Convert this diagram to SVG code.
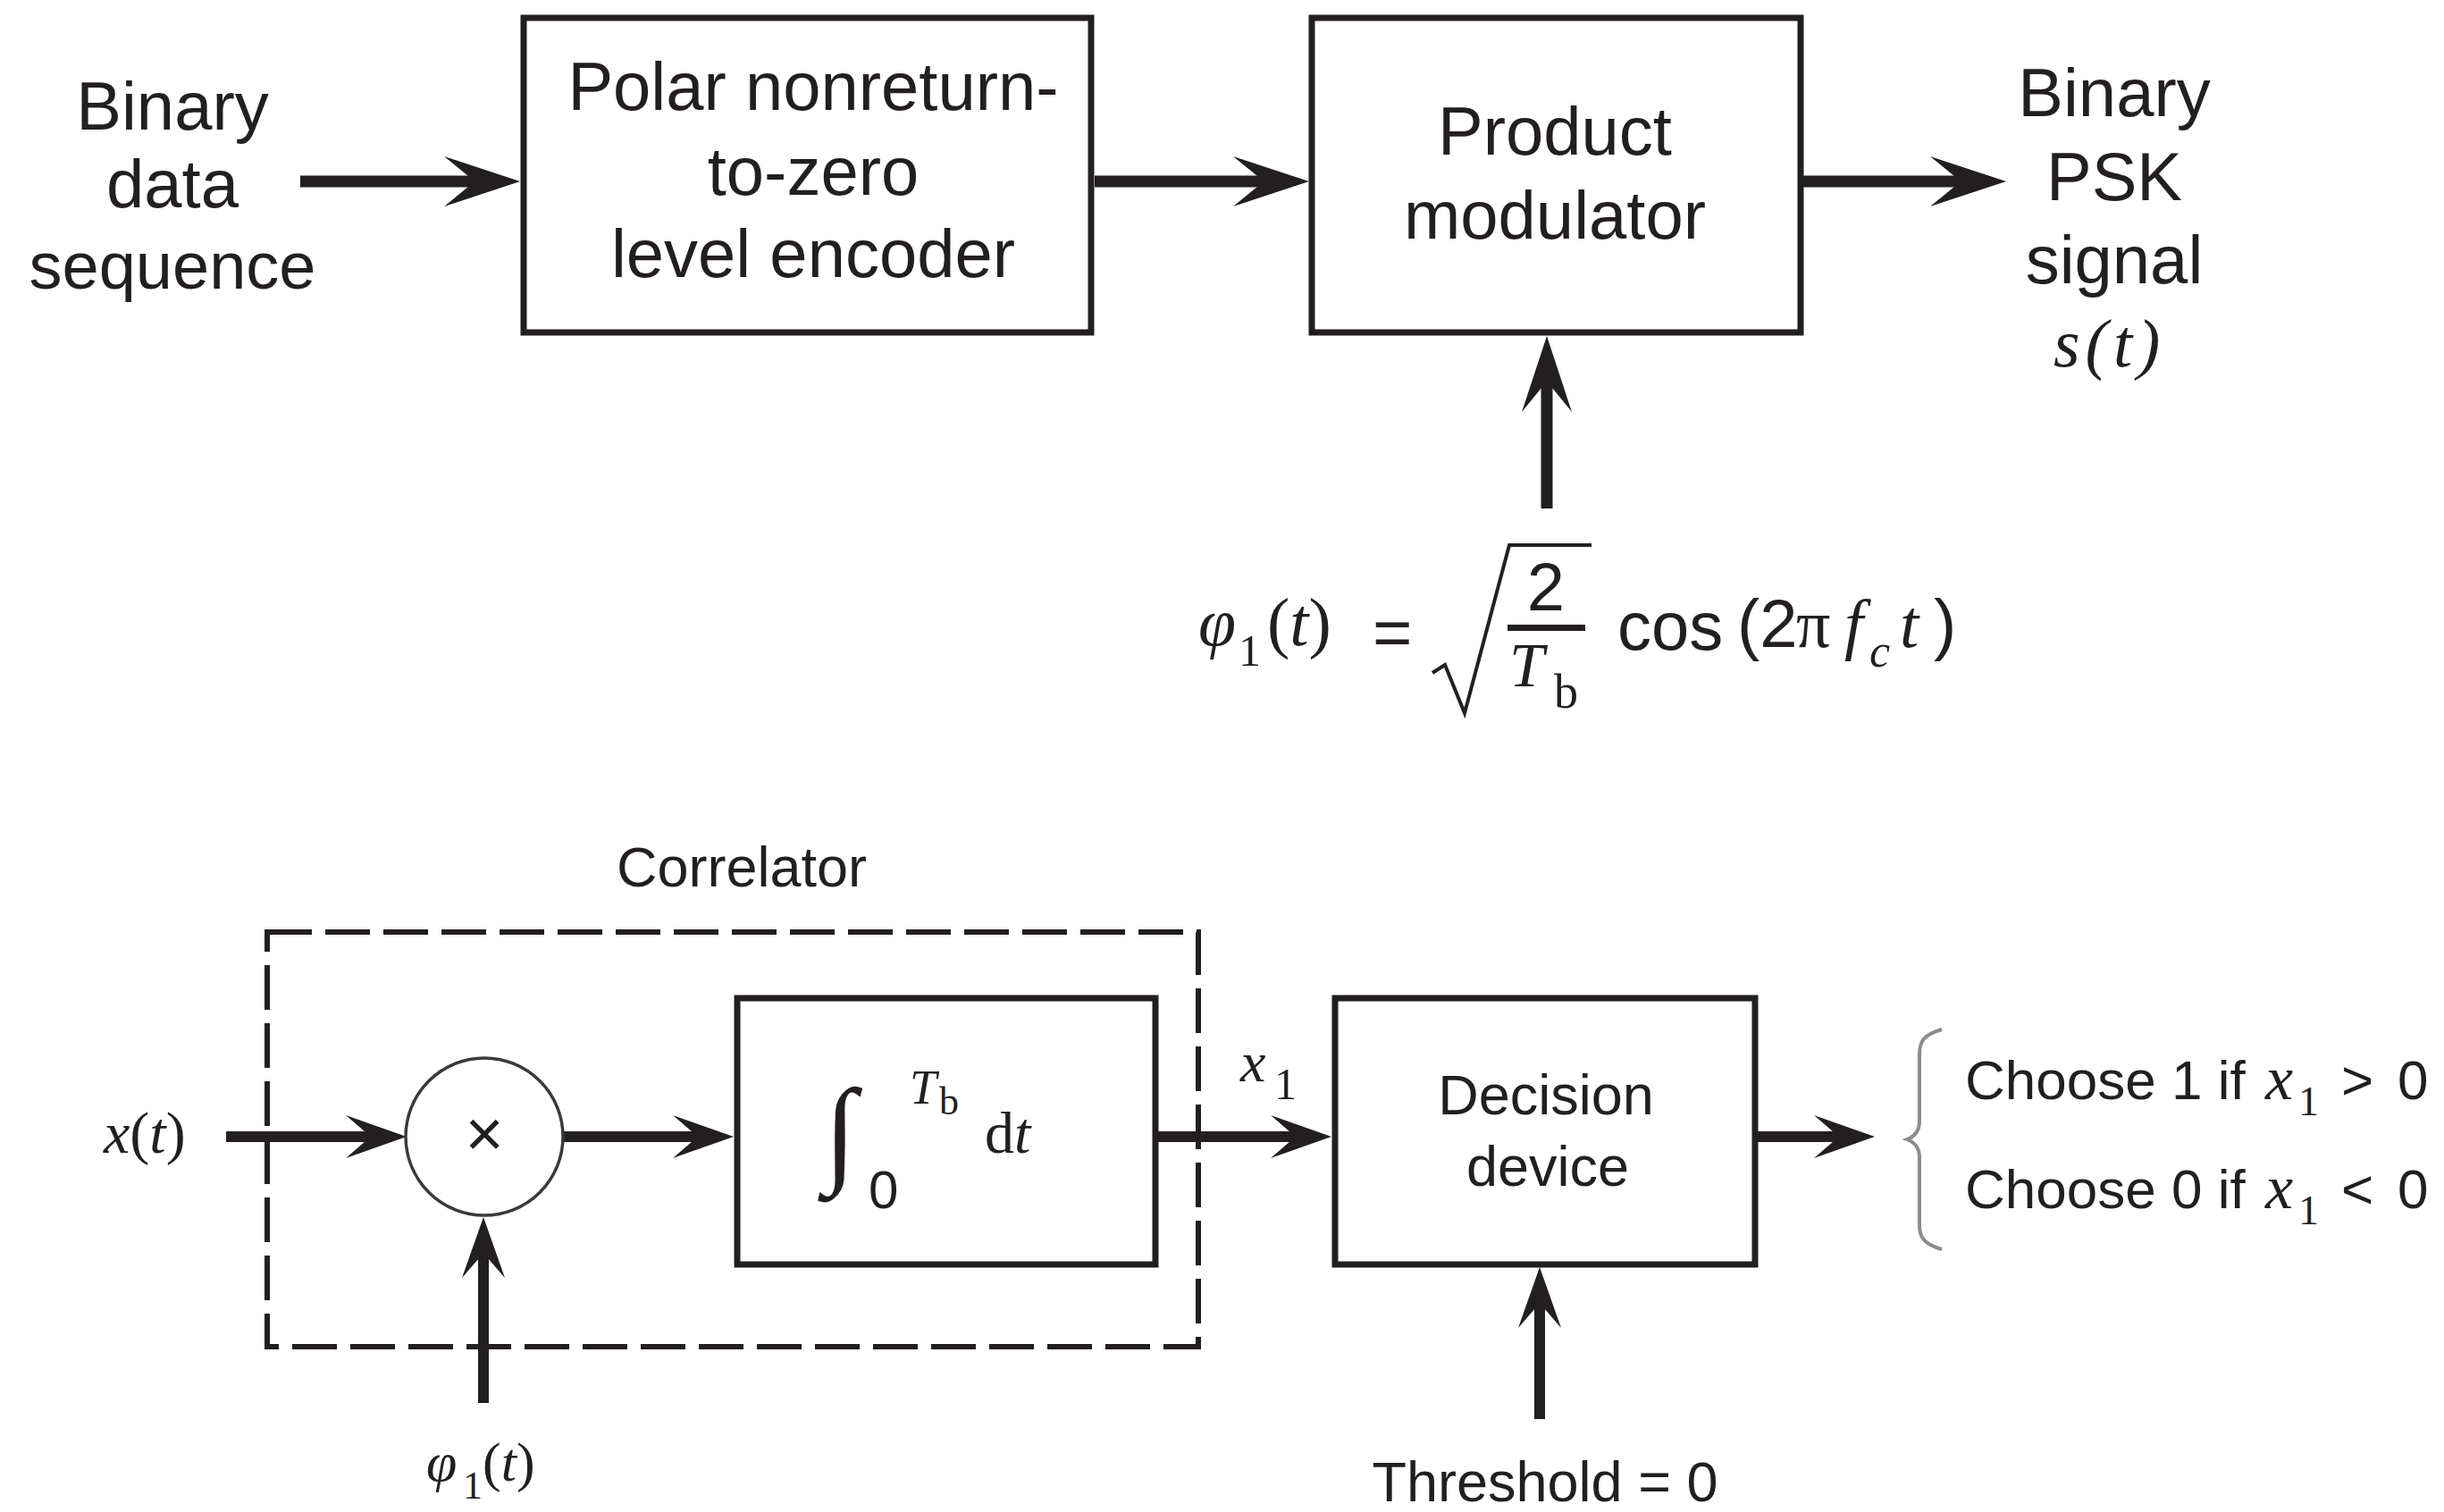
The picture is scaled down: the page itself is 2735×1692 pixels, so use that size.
<svg xmlns="http://www.w3.org/2000/svg" width="2735" height="1692" viewBox="0 0 2735 1692">
<defs>
<style>
.bg{fill:#ffffff}
.box{fill:none;stroke:#231f20;stroke-width:7}
.ln{fill:none;stroke:#231f20}
.t{font-family:"Liberation Sans",Arial,sans-serif;fill:#231f20}
.top{font-size:76px}
.bot{font-size:63px}
.m{font-family:"Liberation Serif","Times New Roman",serif;fill:#231f20}
.i{font-style:italic}
</style>
<marker id="ahT" viewBox="-40 -30 95 60" markerWidth="95" markerHeight="60" refX="0" refY="0" orient="auto" markerUnits="userSpaceOnUse">
<path d="M50,0 L-35,-28 L-8,-6 L-8,6 L-35,28 Z" fill="#231f20"/>
</marker>
<marker id="ahB" viewBox="-32 -26 76 52" markerWidth="76" markerHeight="52" refX="0" refY="0" orient="auto" markerUnits="userSpaceOnUse">
<path d="M40,0 L-28,-24 L-6,-5 L-6,5 L-28,24 Z" fill="#231f20"/>
</marker>
</defs>
<rect class="bg" x="0" y="0" width="2735" height="1692"/>

<g id="connectors">
<line class="ln" x1="336" y1="203" x2="532" y2="203" stroke-width="13" marker-end="url(#ahT)"/>
<line class="ln" x1="1225" y1="203" x2="1415" y2="203" stroke-width="13" marker-end="url(#ahT)"/>
<line class="ln" x1="2018" y1="203" x2="2195" y2="203" stroke-width="13" marker-end="url(#ahT)"/>
<line class="ln" x1="1731" y1="569" x2="1731" y2="426" stroke-width="13" marker-end="url(#ahT)"/>
<line class="ln" x1="253" y1="1272" x2="415" y2="1272" stroke-width="12" marker-end="url(#ahB)"/>
<line class="ln" x1="629" y1="1272" x2="781" y2="1272" stroke-width="12" marker-end="url(#ahB)"/>
<line class="ln" x1="1296" y1="1272" x2="1450" y2="1272" stroke-width="12" marker-end="url(#ahB)"/>
<line class="ln" x1="1967" y1="1272" x2="2058" y2="1272" stroke-width="12" marker-end="url(#ahB)"/>
<line class="ln" x1="541" y1="1570" x2="541" y2="1402" stroke-width="12" marker-end="url(#ahB)"/>
<line class="ln" x1="1723" y1="1588" x2="1723" y2="1458" stroke-width="12" marker-end="url(#ahB)"/>
</g>

<g id="input-label">
<text class="t top" text-anchor="middle"><tspan x="193" y="145">Binary</tspan><tspan x="193" y="232">data</tspan><tspan x="193" y="323" font-size="74">sequence</tspan></text>
</g>

<g id="encoder">
<rect class="box" x="586" y="20" width="635" height="352"/>
<text class="t top" text-anchor="middle"><tspan x="910" y="123">Polar nonreturn-</tspan><tspan x="910" y="218">to-zero</tspan><tspan x="910" y="310">level encoder</tspan></text>
</g>

<g id="product-modulator">
<rect class="box" x="1468" y="20" width="547" height="352"/>
<text class="t top" text-anchor="middle"><tspan x="1740" y="173">Product</tspan><tspan x="1740" y="267">modulator</tspan></text>
</g>

<g id="output-label">
<text class="t top" text-anchor="middle"><tspan x="2366" y="130">Binary</tspan><tspan x="2366" y="224">PSK</tspan><tspan x="2366" y="317">signal</tspan></text>
<text class="m i" font-size="76" x="2298" y="410" letter-spacing="6">s(t)</text>
</g>

<g id="carrier-formula">
<text class="m" font-size="76" y="722"><tspan class="i" x="1341">φ</tspan><tspan x="1386" y="745" font-size="50">1</tspan><tspan x="1418" y="722">(</tspan><tspan class="i">t</tspan><tspan>)</tspan></text>
<text class="t" font-size="76" x="1536" y="734">=</text>
<path d="M1603,753 L1617,744 L1639,798 L1689,610 L1781,610" fill="none" stroke="#231f20" stroke-width="4"/>
<text class="t" font-size="76" x="1730" y="683" text-anchor="middle">2</text>
<rect x="1687" y="699" width="87" height="7" fill="#231f20"/>
<text class="m" font-size="70" y="768"><tspan class="i" x="1689">T</tspan><tspan x="1739" y="792" font-size="54">b</tspan></text>
<text class="t" font-size="76" y="727"><tspan x="1810">cos</tspan><tspan x="1944" y="724">(2</tspan><tspan class="m" x="2010">π</tspan><tspan class="m i" x="2064">f</tspan><tspan class="m i" x="2092" y="746" font-size="52">c</tspan><tspan class="m i" x="2126" y="724">t</tspan><tspan x="2164">)</tspan></text>
</g>

<g id="correlator">
<rect x="299" y="1043" width="1042" height="464" fill="none" stroke="#231f20" stroke-width="6" stroke-dasharray="50 15"/>
<text class="t bot" x="830" y="992" text-anchor="middle">Correlator</text>
</g>

<g id="x-input">
<text class="m" font-size="66" y="1290"><tspan class="i" x="116">x</tspan><tspan>(</tspan><tspan class="i">t</tspan><tspan>)</tspan></text>
</g>

<g id="multiplier">
<circle cx="542" cy="1272" r="88" fill="none" stroke="#3a3a3a" stroke-width="3.5"/>
<text class="t" font-size="74" x="542" y="1294" text-anchor="middle" fill="#444">×</text>
</g>

<g id="phi-input">
<text class="m" font-size="62" y="1657"><tspan class="i" x="477">φ</tspan><tspan x="518" y="1677" font-size="44">1</tspan><tspan x="540" y="1657">(</tspan><tspan class="i">t</tspan><tspan>)</tspan></text>
</g>

<g id="integrator">
<rect class="box" x="825" y="1117" width="468" height="298"/>
<text class="m i" font-size="132" x="922" y="1310">∫</text>
<text class="m" font-size="54" y="1235"><tspan class="i" x="1018">T</tspan><tspan x="1051" y="1247" font-size="44">b</tspan></text>
<text class="t" font-size="60" x="972" y="1352">0</text>
<text class="m" font-size="66" y="1290"><tspan x="1102">d</tspan><tspan class="i">t</tspan></text>
</g>

<g id="x1-label">
<text class="m" font-size="64" y="1210"><tspan class="i" x="1388">x</tspan><tspan x="1426" y="1230" font-size="50">1</tspan></text>
</g>

<g id="decision-device">
<rect class="box" x="1494" y="1117" width="470" height="298"/>
<text class="t bot" text-anchor="middle"><tspan x="1730" y="1247">Decision</tspan><tspan x="1732" y="1327">device</tspan></text>
</g>

<g id="threshold">
<text class="t bot" x="1729" y="1680" text-anchor="middle">Threshold = 0</text>
</g>

<g id="decision-rule">
<path d="M2173,1152 C2152,1158 2148,1166 2148,1180 L2148,1255 C2148,1266 2142,1272 2134,1275 C2142,1278 2148,1284 2148,1295 L2148,1370 C2148,1384 2152,1392 2173,1398" fill="none" stroke="#8c8c8c" stroke-width="4"/>
<text class="t" font-size="62" y="1230"><tspan x="2199">Choose 1 if</tspan><tspan class="m i" x="2535" font-size="70">x</tspan><tspan class="m" x="2572" y="1248" font-size="46">1</tspan><tspan x="2620" y="1230">&gt;</tspan><tspan x="2683">0</tspan></text>
<text class="t" font-size="62" y="1352"><tspan x="2199">Choose 0 if</tspan><tspan class="m i" x="2535" font-size="70">x</tspan><tspan class="m" x="2572" y="1370" font-size="46">1</tspan><tspan x="2620" y="1352">&lt;</tspan><tspan x="2683">0</tspan></text>
</g>
</svg>
